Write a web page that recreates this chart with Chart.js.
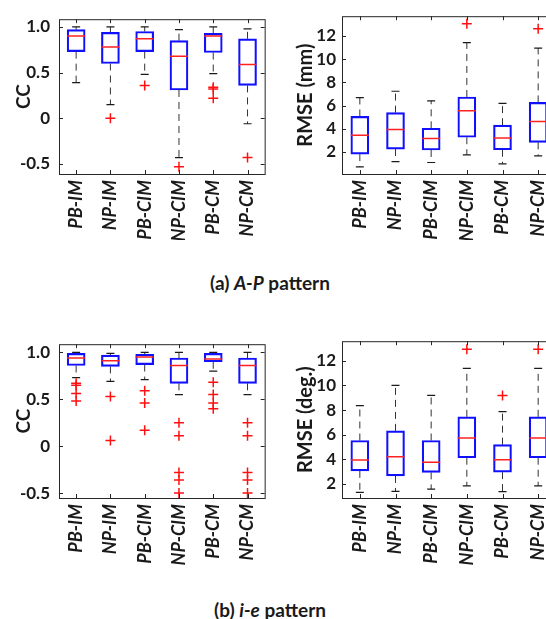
<!DOCTYPE html>
<html>
<head>
<meta charset="utf-8">
<script src="https://cdn.jsdelivr.net/npm/chart.js@4.4.1/dist/chart.umd.min.js"></script>
<style>
  body { margin: 0; width: 546px; height: 619px; overflow: hidden; position: relative; background: #fff; }
  canvas { position: absolute; }
  .leyenda { position: absolute; left: 0; width: 540px; text-align: center; font: bold 19px Lato, sans-serif; line-height: 23px; color: #1a1a1a; }
</style>
</head>
<body>
<canvas id="graficoApCc" width="276" height="240" style="left:0;top:0"></canvas>
<canvas id="graficoApRmse" width="290" height="240" style="left:280px;top:0"></canvas>
<div class="leyenda" style="top:271px">(a) <i>A-P</i> pattern</div>
<canvas id="graficoIeCc" width="276" height="240" style="left:0;top:325px"></canvas>
<canvas id="graficoIeRmse" width="290" height="240" style="left:280px;top:325px"></canvas>
<div class="leyenda" style="top:598px">(b) <i>i-e</i> pattern</div>
<script>
/**
 * Datos
 */
const categorias = ["PB-IM", "NP-IM", "PB-CIM", "NP-CIM", "PB-CM", "NP-CM"];
const ticksCC = [-0.5, 0, 0.5, 1.0];
const ticksRmse = [2, 4, 6, 8, 10, 12];

// (a) A-P, CC
const apCcMin = [0.39, 0.15, 0.48, -0.43, 0.49, -0.06];
const apCcQ1 = [0.73, 0.60, 0.73, 0.31, 0.72, 0.36];
const apCcMediana = [0.90, 0.78, 0.87, 0.68, 0.90, 0.59];
const apCcQ3 = [0.97, 0.94, 0.95, 0.85, 0.93, 0.87];
const apCcMax = [1.0, 1.0, 1.0, 0.97, 1.0, 0.98];
const apCcAtipicos = [[], [0.0], [0.36], [-0.53], [0.34, 0.32, 0.22], [-0.43]];

// (a) A-P, RMSE (mm)
const apRmseMin = [0.71, 1.17, 1.09, 1.75, 0.98, 1.67];
const apRmseQ1 = [1.81, 2.25, 2.17, 3.27, 2.19, 2.83];
const apRmseMediana = [3.43, 3.93, 3.16, 5.55, 3.21, 4.62];
const apRmseQ3 = [5.06, 5.39, 4.04, 6.74, 4.31, 6.27];
const apRmseMax = [6.68, 7.23, 6.41, 11.42, 6.19, 10.95];
const apRmseAtipicos = [[], [], [], [13.05], [], [12.61]];

// (b) i-e, CC
const ieCcMin = [0.73, 0.69, 0.71, 0.55, 0.80, 0.55];
const ieCcQ1 = [0.86, 0.85, 0.87, 0.67, 0.90, 0.67];
const ieCcMediana = [0.94, 0.91, 0.95, 0.86, 0.93, 0.86];
const ieCcQ3 = [0.99, 0.97, 0.98, 0.94, 0.99, 0.94];
const ieCcMax = [1.0, 0.99, 1.0, 1.0, 1.0, 1.0];
const ieCcAtipicos = [
  [0.67, 0.65, 0.56, 0.48],
  [0.53, 0.06],
  [0.59, 0.46, 0.17],
  [0.25, 0.11, -0.28, -0.36, -0.5],
  [0.68, 0.55, 0.46, 0.40],
  [0.25, 0.11, -0.28, -0.36, -0.5],
];

// (b) i-e, RMSE (deg.)
const ieRmseMin = [1.32, 1.40, 1.58, 1.84, 1.38, 1.84];
const ieRmseQ1 = [3.06, 2.65, 2.94, 4.13, 2.96, 4.13];
const ieRmseMediana = [3.95, 4.21, 3.77, 5.74, 3.97, 5.74];
const ieRmseQ3 = [5.53, 6.31, 5.53, 7.45, 5.19, 7.45];
const ieRmseMax = [8.36, 10.0, 9.19, 11.38, 7.87, 11.38];
const ieRmseAtipicos = [[], [], [], [12.94], [9.19], [12.94]];

const fuente = "Lato, 'Open Sans', sans-serif";
const colorTexto = "#1a1a1a";

/*
Marco completo y marcas de ticks hacia adentro (estilo matlab)
*/
const marcoPlugin = {
  id: "marco",
  afterDraw(chart) {
    const { ctx, chartArea: a, scales } = chart;
    ctx.save();
    ctx.strokeStyle = "#262626";
    ctx.lineWidth = 1;
    ctx.strokeRect(a.left + 0.5, a.top + 0.5, a.right - a.left, a.bottom - a.top);
    ctx.beginPath();
    for (const t of scales.y.ticks) {
      const y = Math.round(scales.y.getPixelForValue(t.value)) + 0.5;
      ctx.moveTo(a.left, y);
      ctx.lineTo(a.left + 4, y);
      ctx.moveTo(a.right - 4, y);
      ctx.lineTo(a.right, y);
    }
    for (const t of scales.x.ticks) {
      const x = Math.round(scales.x.getPixelForValue(t.value)) + 0.5;
      ctx.moveTo(x, a.top);
      ctx.lineTo(x, a.top + 4);
      ctx.moveTo(x, a.bottom - 4);
      ctx.lineTo(x, a.bottom);
    }
    ctx.stroke();
    ctx.restore();
  },
};

function crearBoxplot(idCanvas, minimos, q1, medianas, q3, maximos, atipicos, rangoY, ticksY, tituloY, ejeY) {
  const bigotes = [];
  const topes = [];
  const cajas = [];
  const lineasMediana = [];
  const puntosAtipicos = [];

  categorias.forEach((c, i) => {
    const x = i + 1;
    bigotes.push({ x: x, y: q3[i] }, { x: x, y: maximos[i] }, { x: x, y: null });
    bigotes.push({ x: x, y: q1[i] }, { x: x, y: minimos[i] }, { x: x, y: null });
    topes.push({ x: x, y: maximos[i] }, { x: x, y: minimos[i] });
    cajas.push({ x: x, y: [q1[i], q3[i]] });
    lineasMediana.push({ x: x, y: medianas[i] });
    for (const v of atipicos[i]) {
      puntosAtipicos.push({ x: x, y: v });
    }
  });

  return new Chart(document.getElementById(idCanvas), {
    type: "bar",
    data: {
      datasets: [
        {
          type: "line",
          data: bigotes,
          borderColor: "#333333",
          borderWidth: 1,
          borderDash: [7, 5],
          pointRadius: 0,
          spanGaps: false,
          order: 5,
        },
        {
          type: "scatter",
          data: topes,
          pointStyle: "line",
          pointRadius: 4,
          borderColor: "#1a1a1a",
          pointBorderWidth: 1.2,
          order: 4,
        },
        {
          type: "bar",
          data: cajas,
          backgroundColor: "rgba(255,255,255,0)",
          borderColor: "#1010ff",
          borderWidth: 1.5,
          borderSkipped: false,
          barThickness: 18,
          order: 3,
        },
        {
          type: "scatter",
          data: lineasMediana,
          pointStyle: "line",
          pointRadius: 9,
          borderColor: "#ff2020",
          pointBorderWidth: 1.5,
          order: 2,
        },
        {
          type: "scatter",
          data: puntosAtipicos,
          pointStyle: "cross",
          pointRadius: 5,
          borderColor: "#ff1010",
          pointBorderWidth: 1.5,
          order: 1,
        },
      ],
    },
    options: {
      responsive: false,
      animation: false,
      layout: { padding: { top: 9, right: ejeY.derecha, left: 0, bottom: 0 } },
      plugins: { legend: { display: false }, tooltip: { enabled: false } },
      scales: {
        x: {
          type: "linear",
          min: 0.5,
          max: 6.5,
          offset: false,
          grid: { display: false, drawTicks: false },
          border: { display: false },
          afterBuildTicks: (s) => {
            s.ticks = categorias.map((c, i) => ({ value: i + 1 }));
          },
          afterFit: (s) => {
            s.height = ejeY.altoX;
          },
          ticks: {
            autoSkip: false,
            minRotation: 90,
            maxRotation: 90,
            padding: 6,
            color: colorTexto,
            font: { family: fuente, size: 18, weight: "bold", style: "italic" },
            callback: (v) => categorias[v - 1],
          },
        },
        y: {
          min: rangoY[0],
          max: rangoY[1],
          grid: { display: false, drawTicks: false },
          border: { display: false },
          afterBuildTicks: (s) => {
            s.ticks = ticksY.map((v) => ({ value: v }));
          },
          afterFit: (s) => {
            s.width = ejeY.ancho;
          },
          ticks: {
            padding: ejeY.padTicks,
            color: colorTexto,
            font: { family: fuente, size: 17, weight: "bold" },
            callback: (v) => (v === 0 ? "0" : ticksY === ticksCC ? v.toFixed(1) : String(v)),
          },
          title: {
            display: true,
            text: tituloY,
            color: colorTexto,
            padding: { top: ejeY.padTitulo, bottom: 0 },
            font: { family: fuente, size: ejeY.tamTitulo, weight: "bold" },
          },
        },
      },
    },
    plugins: [marcoPlugin],
  });
}

crearBoxplot("graficoApCc", apCcMin, apCcQ1, apCcMediana, apCcQ3, apCcMax, apCcAtipicos,
  [-0.61, 1.085], ticksCC, "CC", { ancho: 59, derecha: 3, altoX: 66, padTicks: 9, padTitulo: 12, tamTitulo: 19 });
crearBoxplot("graficoApRmse", apRmseMin, apRmseQ1, apRmseMediana, apRmseQ3, apRmseMax, apRmseAtipicos,
  [0.1, 13.7], ticksRmse, "RMSE (mm)", { ancho: 62, derecha: 14, altoX: 66, padTicks: 6, padTitulo: 14, tamTitulo: 20 });
crearBoxplot("graficoIeCc", ieCcMin, ieCcQ1, ieCcMediana, ieCcQ3, ieCcMax, ieCcAtipicos,
  [-0.553, 1.087], ticksCC, "CC", { ancho: 59, derecha: 3, altoX: 67, padTicks: 9, padTitulo: 12, tamTitulo: 19 });
crearBoxplot("graficoIeRmse", ieRmseMin, ieRmseQ1, ieRmseMediana, ieRmseQ3, ieRmseMax, ieRmseAtipicos,
  [0.86, 13.59], ticksRmse, "RMSE (deg.)", { ancho: 62, derecha: 14, altoX: 67, padTicks: 6, padTitulo: 14, tamTitulo: 20 });
</script>
</body>
</html>
